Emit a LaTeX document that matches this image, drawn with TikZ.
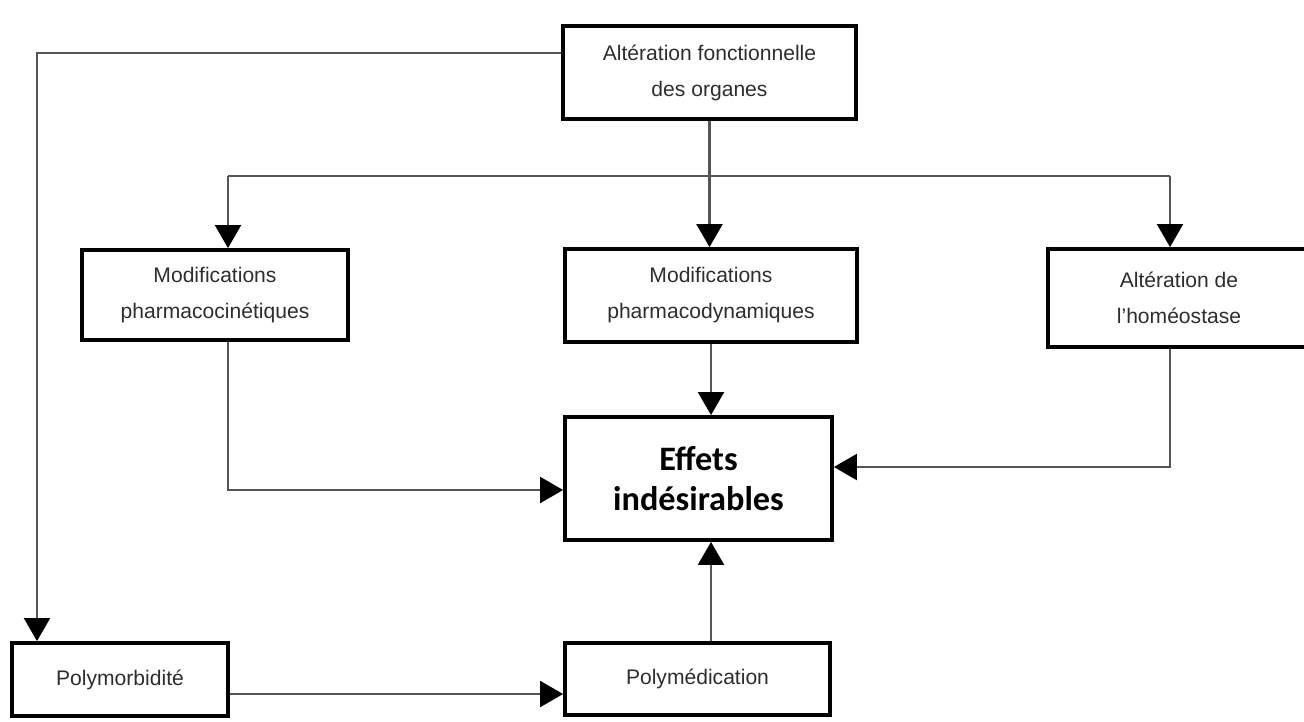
\documentclass[tikz,border=0pt]{standalone}
\usepackage{fontspec}
\setmainfont{Liberation Sans}
\newfontfamily\effetsfont{Carlito}
\usetikzlibrary{arrows.meta,positioning,calc}
\definecolor{trait}{HTML}{555555}
\definecolor{texte}{HTML}{2E2E2E}

\begin{document}
\begin{tikzpicture}[x=0.02cm, y=-0.02cm,
            >={Triangle[length=0.46cm,width=0.52cm,color=black]},  % grosses pointes pleines
            boite/.style={draw=black, line width=2.2pt, fill=white, align=center,
                          text=texte, font=\fontsize{12}{20.5}\selectfont, inner sep=0pt},
            lien/.style={draw=trait, line width=1.2pt}
        ]
        \useasboundingbox (0,0) rectangle (1304,721);
        \clip (0,0) rectangle (1304,721);

        % (1) Les boites
        \node[boite, minimum width=5.86cm, minimum height=1.86cm] (org) at (709.5,72.5)
            {Altération fonctionnelle\\des organes};
        \node[boite, minimum width=5.32cm, minimum height=1.8cm] (pk) at (215,295)
            {Modifications\\pharmacocinétiques};
        \node[boite, minimum width=5.84cm, minimum height=1.86cm] (pd) at (711,295.5)
            {Modifications\\pharmacodynamiques};
        \node[boite, minimum width=5.24cm, minimum height=1.96cm] (homeo) at (1179,298)
            {Altération de\\l'homéostase};
        \node[boite, minimum width=5.34cm, minimum height=2.46cm, text=black,
              font=\effetsfont\bfseries\fontsize{19.5}{23}\selectfont] (effets) at (698.5,478.5)
            {Effets\\indésirables};
        \node[boite, minimum width=4.32cm, minimum height=1.46cm] (morb) at (120,679.5)
            {Polymorbidité};
        \node[boite, minimum width=5.3cm, minimum height=1.44cm] (medic) at (697.5,679)
            {Polymédication};

        % (2) Points de passage des traits
        \coordinate (hautG) at (37,53);
        \coordinate (busG) at (228,176);
        \coordinate (busD) at (1170,176);
        \coordinate (entreeG) at (228,490);
        \coordinate (entreeD) at (1170,467);
        \coordinate (bas) at (0,694);

        % (3) Trait du haut vers les trois boites du milieu
        \draw[lien] (org.south) -- (org.south |- busG);
        \draw[lien] (busG) -- (busD);
        \draw[lien,->] (busG) -- (pk.north -| busG);
        \draw[lien,->] (org.south |- busG) -- (pd.north -| org.south);
        \draw[lien,->] (busD) -- (homeo.north -| busD);

        % (4) Vers les effets indésirables
        \draw[lien,->] (pk.south -| busG) -- (entreeG) -- (effets.west |- entreeG);
        \draw[lien,->] (pd.south) -- (effets.north -| pd.south);
        \draw[lien,->] (homeo.south -| entreeD) -- (entreeD) -- (effets.east |- entreeD);
        \draw[lien,->] (medic.north -| pd.south) -- (effets.south -| pd.south);

        % (5) Polymorbidité et polymédication
        \draw[lien,->] (org.west |- hautG) -| (morb.north -| hautG);
        \draw[lien,->] (morb.east |- bas) -- (medic.west |- bas);

        \end{tikzpicture}
\end{document}
